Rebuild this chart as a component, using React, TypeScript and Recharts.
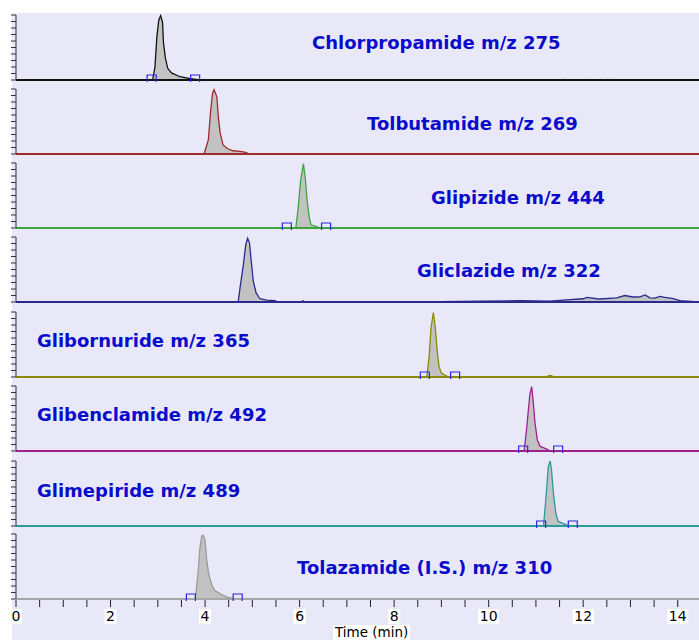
import React from "react";
import {
  ComposedChart,
  Area,
  Scatter,
  XAxis,
  YAxis,
  ReferenceLine,
} from "recharts";

// [time (min), relative intensity %]
const chlorpropamide: [number, number][] = [
  [0, 0], [2.89, 0], [2.94, 20], [2.98, 66], [3.02, 92], [3.06, 99], [3.1, 89],
  [3.12, 57], [3.16, 34], [3.21, 18], [3.29, 11], [3.47, 5], [3.68, 2], [3.89, 0],
  [11.55, 0], [11.58, 1], [11.61, 0], [12.14, 0], [12.17, 1], [12.2, 0],
  [12.35, 0], [12.38, 1], [12.41, 0], [12.6, 0], [12.63, 1], [12.66, 0], [14.45, 0],
];
const tolbutamide: [number, number][] = [
  [0, 0], [3.98, 0], [4.07, 22], [4.12, 68], [4.16, 94], [4.19, 99], [4.25, 88],
  [4.28, 57], [4.32, 32], [4.38, 14], [4.48, 8], [4.59, 5], [4.74, 4], [4.84, 3],
  [4.95, 0], [14.45, 0],
];
const glipizide: [number, number][] = [
  [0, 0], [5.92, 0], [5.97, 31], [6.02, 72], [6.08, 99], [6.12, 77], [6.16, 42],
  [6.2, 18], [6.24, 5], [6.36, 2], [6.43, 0], [14.45, 0],
];
const gliclazide: [number, number][] = [
  [0, 0], [4.7, 0], [4.75, 27], [4.81, 57], [4.86, 88], [4.9, 98], [4.94, 91],
  [4.97, 68], [5.02, 32], [5.08, 14], [5.16, 5], [5.3, 3], [5.48, 2], [5.54, 0],
  [6.04, 0], [6.07, 2], [6.1, 0], [8.55, 0], [9.82, 1.5], [10.66, 2], [11.3, 1.5],
  [11.57, 3], [12.0, 5], [12.08, 7], [12.29, 5], [12.35, 4.6], [12.71, 6.5],
  [12.88, 10], [13.05, 7.7], [13.2, 8], [13.31, 11], [13.41, 6.5], [13.52, 6],
  [13.62, 8.7], [13.73, 7], [13.88, 5.6], [14.05, 2], [14.36, 0.5], [14.45, 0],
];
const glibornuride: [number, number][] = [
  [0, 0], [8.69, 0], [8.74, 31], [8.78, 75], [8.83, 99], [8.87, 77], [8.91, 41],
  [8.95, 16], [9.0, 6], [9.11, 1.5], [9.18, 0], [11.22, 0], [11.27, 2], [11.33, 2],
  [11.38, 0], [13.74, 0], [13.77, 1], [13.8, 0], [14.45, 0],
];
const glibenclamide: [number, number][] = [
  [0, 0], [10.75, 0], [10.8, 32], [10.84, 63], [10.87, 86], [10.91, 99], [10.94, 78],
  [10.98, 43], [11.03, 17], [11.09, 7], [11.23, 3], [11.3, 0], [14.45, 0],
];
const glimepiride: [number, number][] = [
  [0, 0], [11.16, 0], [11.19, 25], [11.23, 60], [11.26, 91], [11.3, 100], [11.33, 86],
  [11.37, 50], [11.42, 20], [11.47, 7], [11.61, 3], [11.72, 0], [14.45, 0],
];
const tolazamide: [number, number][] = [
  [0, 0], [3.79, 0], [3.82, 17], [3.86, 48], [3.89, 78], [3.93, 97], [3.96, 98],
  [4.0, 91], [4.03, 63], [4.07, 42], [4.1, 32], [4.15, 20], [4.21, 13], [4.32, 8],
  [4.46, 3], [4.64, 0], [13.77, 0], [13.8, 1], [13.83, 0], [14.45, 0],
];

const titles = [
  "Chlorpropamide m/z 275",
  "Tolbutamide m/z 269",
  "Glipizide m/z 444",
  "Gliclazide m/z 322",
  "Glibornuride m/z 365",
  "Glibenclamide m/z 492",
  "Glimepiride m/z 489",
  "Tolazamide (I.S.) m/z 310",
];
// integration start / end markers (min), null where none shown
const integration: ([number, number] | null)[] = [
  [2.87, 3.79],
  null,
  [5.73, 6.56],
  null,
  [8.65, 9.29],
  [10.73, 11.47],
  [11.11, 11.78],
  [3.7, 4.69],
];
const timeTicks = [
  0, 0.5, 1, 1.5, 2, 2.5, 3, 3.5, 4, 4.5, 5, 5.5, 6, 6.5, 7, 7.5, 8, 8.5, 9, 9.5,
  10, 10.5, 11, 11.5, 12, 12.5, 13, 13.5, 14,
];
const intensityTicks = [0, 10, 20, 30, 40, 50, 60, 70, 80, 90, 100];

const traces = [
  chlorpropamide, tolbutamide, glipizide, gliclazide,
  glibornuride, glibenclamide, glimepiride, tolazamide,
];
const lineColors = [
  "#111111", "#9e2a2a", "#3fa63f", "#2a2a8c",
  "#8c8a00", "#a0208f", "#2a9a9a", "#9a9a9a",
];
const baselines = [80, 154, 228, 302, 377, 451, 526, 599];
const titleBaselines = [49.3, 130, 204, 277.3, 346.7, 420.7, 497.3, 574.3];
const titleLeft = [312, 367, 431, 417, 37, 37, 37, 297];

const FONT = "'DejaVu Sans', Verdana, sans-serif";
const PLOT_H = 65;

function MarkerShape(props: any) {
  const { cx, cy } = props;
  if (cx == null || cy == null) return null;
  return (
    <path
      d={`M${cx - 4.5},${cy + 2} V${cy - 5} H${cx + 4.5} V${cy + 2}`}
      fill="none"
      stroke="#2626e6"
      strokeWidth={1.2}
    />
  );
}

function TimeTick(props: any) {
  const { x, y, payload } = props;
  const v = payload.value as number;
  const show = v % 2 === 0;
  const label = String(v);
  const w = label.length * 9 + 3;
  return (
    <g>
      <line x1={x} y1={y + 1} x2={x} y2={y + 8} stroke="#222" strokeWidth={1} />
      {show && (
        <>
          <rect x={x - w / 2} y={y + 10} width={w} height={15} fill="#fff" />
          <text
            x={x}
            y={y + 22}
            textAnchor="middle"
            fontSize={14}
            fontFamily={FONT}
            fill="#000"
          >
            {label}
          </text>
        </>
      )}
    </g>
  );
}

function Panel({ index }: { index: number }) {
  const last = index === traces.length - 1;
  const data = traces[index].map(([t, v]) => ({ t, v }));
  const integ = integration[index];
  const axisH = last ? 41 : 1;
  const height = 2 + PLOT_H + axisH + (last ? 0 : 1);
  return (
    <div
      style={{
        position: "absolute",
        left: 11,
        top: baselines[index] - PLOT_H - 2,
      }}
    >
      <ComposedChart
        width={688}
        height={height}
        data={data}
        margin={{ top: 2, right: 0, bottom: last ? 0 : 1, left: 0 }}
      >
        <XAxis
          type="number"
          dataKey="t"
          domain={[0, 14.45]}
          allowDataOverflow
          ticks={last ? timeTicks : []}
          interval={0}
          height={axisH}
          tickSize={0}
          tickMargin={0}
          tick={last ? <TimeTick /> : false}
          tickLine={false}
          axisLine={{
            stroke: last ? "#a6a6a6" : lineColors[index],
            strokeWidth: 2,
          }}
        />
        <YAxis
          type="number"
          domain={[0, 100]}
          ticks={intensityTicks}
          interval={0}
          width={5}
          tickSize={5}
          tickFormatter={() => ""}
          tickLine={{ stroke: "#333" }}
          axisLine={{ stroke: "#333" }}
        />
        <Area
          type="linear"
          dataKey="v"
          stroke={lineColors[index]}
          strokeWidth={1.3}
          fill="#c2c2c2"
          fillOpacity={1}
          dot={false}
          activeDot={false}
          isAnimationActive={false}
        />
        {integ && (
          <ReferenceLine
            segment={[
              { x: integ[0], y: 0 },
              { x: integ[1], y: 0 },
            ]}
            stroke="#2f2ff0"
            strokeWidth={2}
          />
        )}
        {integ && (
          <Scatter
            data={[
              { t: integ[0], v: 0 },
              { t: integ[1], v: 0 },
            ]}
            dataKey="v"
            shape={<MarkerShape />}
            isAnimationActive={false}
          />
        )}
      </ComposedChart>
    </div>
  );
}

export default function App() {
  return (
    <div
      style={{
        position: "absolute",
        left: 0,
        top: 0,
        width: 699,
        height: 640,
        background: "#fff",
        overflow: "hidden",
      }}
    >
      <div
        style={{
          position: "absolute",
          left: 12,
          top: 13,
          width: 687,
          height: 627,
          background: "#e8e8f9",
        }}
      />
      {traces.map((_, i) => (
        <Panel key={i} index={i} />
      ))}
      {titles.map((t, i) => (
        <div
          key={t}
          style={{
            position: "absolute",
            left: titleLeft[i],
            top: titleBaselines[i] - 16.2,
            lineHeight: "20px",
            fontSize: 18,
            fontWeight: 700,
            fontFamily: FONT,
            color: "#0b0bcc",
            whiteSpace: "nowrap",
          }}
        >
          {t}
        </div>
      ))}
      <div
        style={{
          position: "absolute",
          left: 333,
          top: 625,
          padding: "0 2px",
          background: "#fff",
          fontSize: 13.5,
          lineHeight: "15px",
          fontFamily: FONT,
          color: "#000",
          whiteSpace: "nowrap",
        }}
      >
        Time (min)
      </div>
    </div>
  );
}
